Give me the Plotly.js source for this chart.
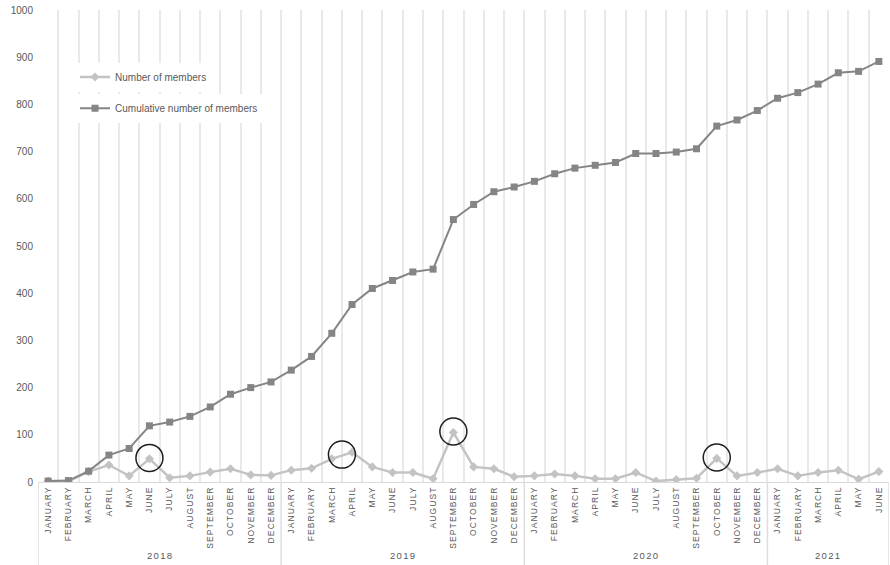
<!DOCTYPE html>
<html><head><meta charset="utf-8">
<script src="https://cdn.plot.ly/plotly-3.0.1.min.js"></script>
<style>
html,body{margin:0;padding:0;background:#fff;}
#chart{width:890px;height:565px;}
.xtick text{letter-spacing:1.1px;}
.annotation-text{letter-spacing:1.3px;}
</style></head><body><div id="chart"></div>
<script>
const years = ['2018', '2019', '2020', '2021'];
const monthsInYear = [12, 12, 12, 6];
const monthNames = ['JANUARY', 'FEBRUARY', 'MARCH', 'APRIL', 'MAY', 'JUNE', 'JULY',
  'AUGUST', 'SEPTEMBER', 'OCTOBER', 'NOVEMBER', 'DECEMBER'];
const members = [2, 1, 22, 36, 13, 49, 9, 13, 21, 28, 15, 14,
  25, 29, 49, 63, 32, 20, 20, 7, 105, 32, 28, 11,
  13, 17, 13, 7, 7, 20, 2, 5, 8, 50, 13, 20,
  28, 13, 20, 25, 6, 22];
const cumulative = [2, 3, 23, 57, 71, 119, 127, 139, 159, 186, 200, 212,
  237, 266, 315, 376, 410, 427, 445, 451, 556, 588, 615, 625,
  637, 653, 665, 671, 677, 696, 696, 699, 706, 754, 767, 787,
  813, 825, 843, 867, 870, 891];
const highlightPositions = [5, 14.5, 20, 33];
const yTicks = [0, 100, 200, 300, 400, 500, 600, 700, 800, 900, 1000];

// build category labels and positions
const tickText = [];
const yearStart = [];
years.forEach((yr, i) => {
  yearStart.push(tickText.length);
  for (let m = 0; m < monthsInYear[i]; m++) tickText.push(monthNames[m]);
});
const xs = tickText.map((_, i) => i);
const valAt = p => {
  const lo = Math.floor(p), hi = Math.ceil(p);
  return (members[lo] + members[hi]) / 2 + 2;
};

const traces = [
  {x: xs, y: members, name: 'Number of members', mode: 'lines+markers',
   line: {color: '#c3c3c3', width: 2.4},
   marker: {symbol: 'diamond', size: 7, color: '#c3c3c3'}, legend: 'legend'},
  {x: xs, y: cumulative, name: 'Cumulative number of members', mode: 'lines+markers',
   line: {color: '#858585', width: 2},
   marker: {symbol: 'square', size: 7, color: '#858585'}, legend: 'legend2'},
  {x: highlightPositions, y: highlightPositions.map(valAt), mode: 'markers', showlegend: false,
   marker: {symbol: 'circle-open', size: 27, color: '#1e1e1e', line: {width: 1.5, color: '#1e1e1e'}},
   hoverinfo: 'skip'}
];

const shapes = [];
const annotations = [];
const bounds = yearStart.concat([tickText.length]);
bounds.forEach(b => {
  shapes.push({type: 'line', xref: 'x', yref: 'paper', x0: b - 0.5, x1: b - 0.5,
    y0: 0, y1: -0.176, line: {color: '#dedede', width: 1.5}});
});
years.forEach((yr, i) => {
  annotations.push({xref: 'x', yref: 'paper', x: yearStart[i] + (monthsInYear[i] - 1) / 2,
    y: -0.155, text: yr, showarrow: false, yanchor: 'middle',
    font: {family: 'Liberation Sans, Arial, sans-serif', size: 9.5, color: '#595959'}});
});

const layout = {
  width: 890, height: 565,
  margin: {l: 38, r: 1, t: 10, b: 83},
  paper_bgcolor: '#ffffff', plot_bgcolor: '#ffffff',
  font: {family: 'Liberation Sans, Arial, sans-serif', color: '#595959'},
  xaxis: {range: [-0.5, tickText.length - 0.5], tickmode: 'array', tickvals: xs, ticktext: tickText,
    tickangle: -90, tickfont: {size: 8.5, color: '#595959'}, showgrid: false, zeroline: false,
    showline: true, linecolor: '#d9d9d9', linewidth: 1, ticks: '', ticklen: 0,
    minor: {tickmode: 'linear', tick0: -0.5, dtick: 1, showgrid: true, gridcolor: '#e9e9e9', gridwidth: 2, ticks: ''}},
  yaxis: {range: [0, 1000], tickmode: 'array', tickvals: yTicks, showgrid: false, zeroline: false,
    showline: false, ticks: '', tickfont: {size: 10, color: '#595959'}, ticklabelstandoff: 4},
  legend: {x: 0.0435, xanchor: 'left', y: 0.858, yanchor: 'middle', bgcolor: '#ffffff',
    font: {size: 10, color: '#595959'}, borderwidth: 0},
  legend2: {x: 0.0435, xanchor: 'left', y: 0.792, yanchor: 'middle', bgcolor: '#ffffff',
    font: {size: 10, color: '#595959'}, borderwidth: 0},
  shapes: shapes, annotations: annotations, showlegend: true
};
Plotly.newPlot('chart', traces, layout, {displayModeBar: false, staticPlot: true});
</script></body></html>
